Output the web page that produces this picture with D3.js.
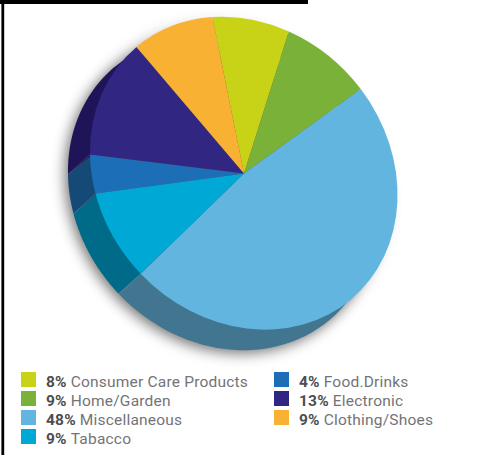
<!DOCTYPE html>
<html>
<head>
<meta charset="utf-8">
<style>
  html, body { margin: 0; padding: 0; background: #fff; }
  svg { display: block; }
</style>
<script src="https://cdn.jsdelivr.net/npm/d3@7/dist/d3.min.js"></script>
</head>
<body>
<svg id="chart" width="477" height="455"></svg>
<script>
// Market share by product category
const categories = ["Consumer Care Products", "Home/Garden", "Miscellaneous", "Tabacco", "Food.Drinks", "Electronic", "Clothing/Shoes"];
const shares = [8, 9, 48, 9, 4, 13, 9];
const topColors = ["#c8d217", "#7ab239", "#62b5df", "#00a8d6", "#1c6fb7", "#312783", "#f8b133"];
const sideColors = ["#7f8510", "#4d7024", "#42758f", "#006b88", "#154a77", "#1f1457", "#a3741f"];
const legendColumns = [[0, 1, 2, 3], [4, 5, 6]];

const width = 477, height = 455;
const cx = 244, cy = 173.5;         // apex of the tilted disc
const semiMajor = 166, semiMinor = 144, tilt = 48.5;
const depth = { x: -22, y: 20 };    // extrusion of the disc towards the lower left
const firstAngle = -56.3 * Math.PI / 180;

const svg = d3.select("#chart");

const pie = d3.pie().sort(null).startAngle(firstAngle).endAngle(firstAngle + 2 * Math.PI);
const arcs = pie(shares);
const unitArc = d3.arc().innerRadius(0).outerRadius(1);

const tiltTransform = (dx, dy) =>
  `translate(${cx + dx},${cy + dy}) rotate(${tilt}) scale(${semiMajor},${semiMinor})`;

// Maps an angle on the unit disc to page coordinates
const rad = tilt * Math.PI / 180;
const project = (a, dx = 0, dy = 0, r = 1) => {
  const u = r * semiMajor * Math.sin(a), v = -r * semiMinor * Math.cos(a);
  return [cx + dx + u * Math.cos(rad) - v * Math.sin(rad),
          cy + dy + u * Math.sin(rad) + v * Math.cos(rad)];
};

// Soft drop shadow under the extruded disc
const defs = svg.append("defs");
defs.append("filter").attr("id", "soft")
    .attr("x", "-20%").attr("y", "-20%").attr("width", "140%").attr("height", "140%")
  .append("feGaussianBlur").attr("stdDeviation", 7);

const shadow = svg.append("g").attr("filter", "url(#soft)");
shadow.append("ellipse")
  .attr("transform", tiltTransform(depth.x - 3, depth.y + 3))
  .attr("rx", 1).attr("ry", 1)
  .attr("fill", "#000").attr("opacity", 0.55);
shadow.append("ellipse")
  .attr("transform", tiltTransform(-9, 6))
  .attr("rx", 1).attr("ry", 1)
  .attr("fill", "#000").attr("opacity", 0.2);

// Frame
svg.append("rect").attr("x", 0).attr("y", 0).attr("width", 308).attr("height", 4).attr("fill", "#000");
svg.append("rect").attr("x", 1.4).attr("y", 0).attr("width", 2.8).attr("height", height).attr("fill", "#000");

// Side wall of each slice: the outer edge swept along the extrusion.
// The inner edge sits just under the top face so no dark fringe shows on its rim.
const wall = d3.line();
svg.append("g").selectAll("path").data(arcs).join("path")
  .attr("d", d => {
    const steps = d3.range(0, 61).map(i => d.startAngle + (d.endAngle - d.startAngle) * i / 60);
    const front = steps.map(a => project(a, 0, 0, 0.985));
    const back = steps.slice().reverse().map(a => project(a, depth.x, depth.y));
    return wall(front.concat(back)) + "Z";
  })
  .attr("fill", (d, i) => sideColors[i]);

// Pale seams between neighbouring walls
svg.append("g").selectAll("line").data(arcs).join("line")
  .attr("x1", d => project(d.startAngle)[0])
  .attr("y1", d => project(d.startAngle)[1])
  .attr("x2", d => project(d.startAngle, depth.x, depth.y)[0])
  .attr("y2", d => project(d.startAngle, depth.x, depth.y)[1])
  .attr("stroke", "#ffffff").attr("stroke-opacity", 0.3).attr("stroke-width", 0.5);

// Top face
svg.append("g").attr("transform", tiltTransform(0, 0))
  .selectAll("path").data(arcs).join("path")
  .attr("d", unitArc)
  .attr("fill", (d, i) => topColors[i]);

// Legend
const legendX = [21, 274];
const rowY = d3.scalePoint().domain(d3.range(4)).range([372, 429]);
const font = "Roboto, sans-serif";
legendColumns.forEach((col, c) => {
  const rows = svg.append("g").selectAll("g").data(col).join("g")
    .attr("transform", (k, r) => `translate(${legendX[c]},${rowY(r)})`);
  rows.append("rect").attr("width", 15).attr("height", 15).attr("fill", k => topColors[k]);
  const label = rows.append("text").attr("x", 25).attr("y", 14.5)
    .attr("font-family", font).attr("font-size", 15.5).attr("letter-spacing", 0.2)
    .attr("fill", "#737477");
  label.append("tspan").attr("font-weight", 700).attr("fill", "#4d4d4f").text(k => shares[k] + "%");
  label.append("tspan").attr("dx", 4).text(k => categories[k]);
});
</script>
</body>
</html>
